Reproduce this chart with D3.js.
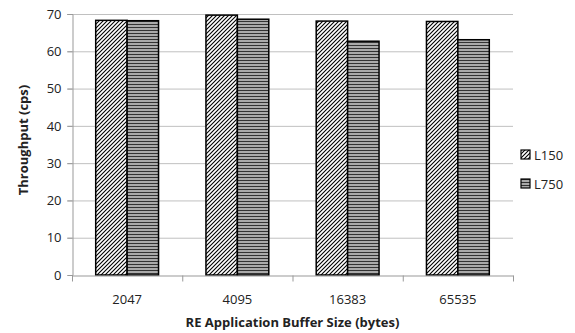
<!DOCTYPE html>
<html>
<head>
<meta charset="utf-8">
<script src="https://cdn.jsdelivr.net/npm/d3@7"></script>
<style>
  body { margin: 0; background: #fff; }
  text { font-family: "Open Sans", "Liberation Sans", sans-serif; fill: #222; }
</style>
</head>
<body>
<div id="chart"></div>
<script>
var categories = ["2047", "4095", "16383", "65535"];
var seriesNames = ["L150", "L750"];
var l150 = [68.3, 69.7, 68.1, 68.0];
var l750 = [68.2, 68.6, 62.7, 63.1];
var yTicks = [0, 10, 20, 30, 40, 50, 60, 70];

var width = 575, height = 333;
var margin = {left: 72, right: 62, top: 14, bottom: 58};

var svg = d3.select("#chart").append("svg")
    .attr("width", width)
    .attr("height", height);

var defs = svg.append("defs");

// diagonal hatch for L150 (4px tile, "/" lines)
var diag = defs.append("pattern")
    .attr("id", "diag")
    .attr("patternUnits", "userSpaceOnUse")
    .attr("width", 4)
    .attr("height", 4);
diag.append("rect").attr("width", 4).attr("height", 4).attr("fill", "#fff");
diag.append("path")
    .attr("d", "M-1,1 L1,-1 M0,4 L4,0 M3,5 L5,3")
    .attr("stroke", "#000")
    .attr("stroke-width", 1.1);

// horizontal stripes for L750
var horiz = defs.append("pattern")
    .attr("id", "horiz")
    .attr("patternUnits", "userSpaceOnUse")
    .attr("width", 4)
    .attr("height", 3);
horiz.append("rect").attr("width", 4).attr("height", 3).attr("fill", "#aaa");
horiz.append("rect").attr("width", 4).attr("height", 1).attr("fill", "#333");

var x = d3.scaleBand()
    .domain(categories)
    .range([margin.left, width - margin.right])
    .paddingInner(0)
    .paddingOuter(0);

var xs = d3.scaleBand()
    .domain(seriesNames)
    .range([x.bandwidth() * 0.215, x.bandwidth() * 0.785]);

var y = d3.scaleLinear()
    .domain([0, 70])
    .range([height - margin.bottom, margin.top]);

// gridlines
svg.append("g")
    .selectAll("line")
    .data(yTicks.filter(function(d) { return d > 0; }))
    .join("line")
    .attr("x1", margin.left - 5)
    .attr("x2", width - margin.right)
    .attr("y1", function(d) { return y(d) + 0.5; })
    .attr("y2", function(d) { return y(d) + 0.5; })
    .attr("stroke", "#c0c0c0")
    .attr("stroke-width", 1);

// y axis
var yAxis = svg.append("g")
    .attr("transform", "translate(" + (margin.left + 0.5) + ",0)")
    .call(d3.axisLeft(y).tickValues(yTicks).tickSize(5).tickPadding(6));
yAxis.select(".domain").attr("stroke", "#999");
yAxis.selectAll(".tick line").attr("stroke", "#999");
yAxis.selectAll("text").style("font-size", "13px").attr("fill", "#222");

// bars
var series = [l150, l750];
var fills = ["url(#diag)", "url(#horiz)"];
series.forEach(function(vals, si) {
    svg.append("g")
        .selectAll("rect")
        .data(vals)
        .join("rect")
        .attr("x", function(d, i) { return x(categories[i]) + xs(seriesNames[si]); })
        .attr("y", function(d) { return y(d); })
        .attr("width", xs.bandwidth())
        .attr("height", function(d) { return y(0) - y(d); })
        .attr("fill", fills[si])
        .attr("stroke", "#000")
        .attr("stroke-width", 1.5);
});

// x axis
var xAxis = svg.append("g")
    .attr("transform", "translate(0," + (y(0) + 0.5) + ")")
    .call(d3.axisBottom(x).tickSize(0).tickPadding(19));
xAxis.select(".domain").attr("stroke", "#999");
xAxis.selectAll("text").style("font-size", "13px").attr("fill", "#222");
xAxis.append("g")
    .selectAll("line")
    .data(categories.concat([null]))
    .join("line")
    .attr("x1", function(d, i) { return margin.left + i * x.bandwidth() + 0.5; })
    .attr("x2", function(d, i) { return margin.left + i * x.bandwidth() + 0.5; })
    .attr("y1", 0)
    .attr("y2", 6)
    .attr("stroke", "#999");

// axis titles
svg.append("text")
    .attr("x", (margin.left + width - margin.right) / 2)
    .attr("y", 327)
    .attr("text-anchor", "middle")
    .style("font-size", "13px")
    .style("font-weight", "bold")
    .text("RE Application Buffer Size (bytes)");

svg.append("text")
    .attr("transform", "translate(28," + 140 + ") rotate(-90)")
    .attr("text-anchor", "middle")
    .style("font-size", "13px")
    .style("font-weight", "bold")
    .text("Throughput (cps)");

// legend
var legend = svg.append("g")
    .attr("transform", "translate(521,150)");
seriesNames.forEach(function(name, i) {
    var g = legend.append("g").attr("transform", "translate(0," + (i * 29) + ")");
    g.append("rect")
        .attr("width", 9).attr("height", 9)
        .attr("fill", fills[i])
        .attr("stroke", "#000")
        .attr("stroke-width", 1.2);
    g.append("text")
        .attr("x", 13)
        .attr("y", 5)
        .attr("dy", "0.35em")
        .style("font-size", "13px")
        .text(name);
});
</script>
</body>
</html>
